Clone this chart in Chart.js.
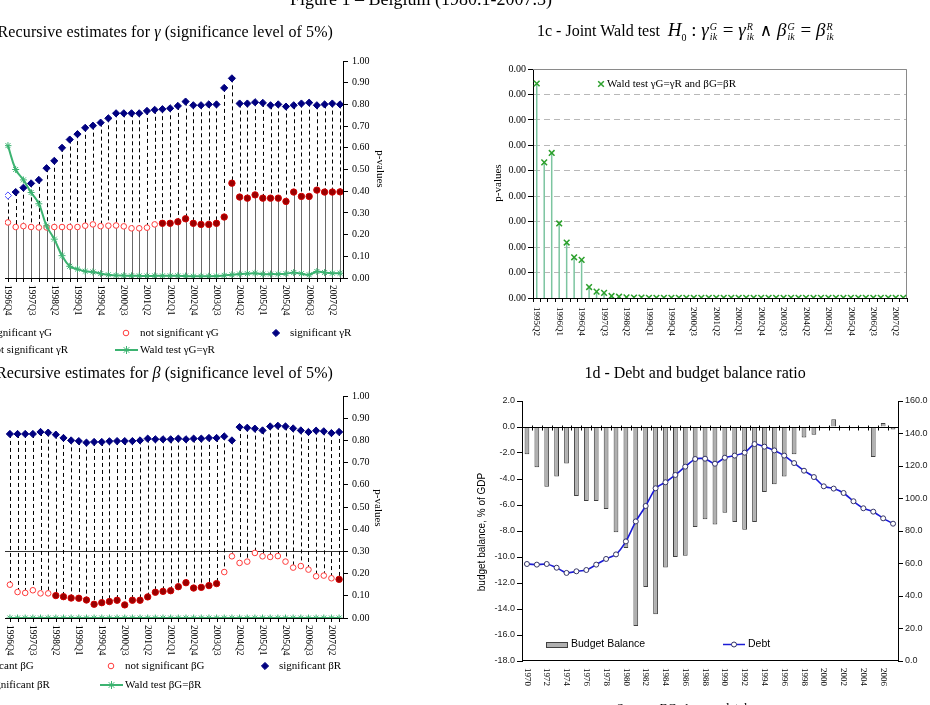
<!DOCTYPE html>
<html>
<head>
<meta charset="utf-8">
<title>Figure 1 – Belgium</title>
<script src="https://cdn.jsdelivr.net/npm/chart.js@4.4.1/dist/chart.umd.min.js"></script>
<style>
  html, body { margin: 0; padding: 0; background: #fff; }
  body { position: relative; width: 930px; height: 705px; overflow: hidden;
         font-family: "Liberation Serif", "Times New Roman", serif; color: #000; }
  canvas { position: absolute; }
  .t { position: absolute; white-space: nowrap; line-height: 1; }
  .lg { font-size: 11px; }
  .rotD { position: absolute; white-space: nowrap; line-height: 1; transform: translate(-50%, -50%) rotate(90deg); }
  .rotU { position: absolute; white-space: nowrap; line-height: 1; transform: translate(-50%, -50%) rotate(-90deg); }
  .ss { display: inline-block; vertical-align: -0.35em; font-size: 10px; font-style: italic; line-height: 0.95; margin: 0 1px 0 1px; }
  .ss span { display: block; }
  .op { font-size: 17px; font-family: "DejaVu Serif", serif; font-weight: normal; }
  .sans { font-family: "Liberation Sans", Arial, sans-serif; }
</style>
</head>
<body>

<canvas id="c1a" width="465" height="360" style="left:0;top:0"></canvas>
<canvas id="c1c" width="465" height="360" style="left:465px;top:0"></canvas>
<canvas id="c1b" width="465" height="345" style="left:0;top:360px"></canvas>
<canvas id="c1d" width="465" height="345" style="left:465px;top:360px"></canvas>

<!-- titles -->
<div class="t" style="left:290px;top:-10px;font-size:18px">Figure 1 – Belgium (1980.1-2007.3)</div>
<div class="t" style="right:597px;top:24px;font-size:16px;letter-spacing:0.1px">1a - Recursive estimates for <i>γ</i> (significance level of 5%)</div>
<div class="t" style="left:537px;top:20px;font-size:16px">1c - Joint Wald test&nbsp; <span style="font-size:19px"><i>H</i><sub style="font-size:10px">0</sub> : <i>γ</i><span class="ss"><span>G</span><span>ik</span></span> = <i>γ</i><span class="ss"><span>R</span><span>ik</span></span> <span class="op">∧</span> <i>β</i><span class="ss"><span>G</span><span>ik</span></span> = <i>β</i><span class="ss"><span>R</span><span>ik</span></span></span></div>
<div class="t" style="right:597px;top:365px;font-size:16px;letter-spacing:0.1px">1b - Recursive estimates for <i>β</i> (significance level of 5%)</div>
<div class="t" style="left:695px;top:365px;font-size:16px;transform:translateX(-50%)">1d - Debt and budget balance ratio</div>
<div class="t" style="left:692px;top:701px;font-size:13px;transform:translateX(-50%)">Source: EC, Ameco database</div>

<!-- axis titles -->
<div class="rotD" style="left:380px;top:169px;font-size:11px">p-values</div>
<div class="rotD" style="left:378px;top:508px;font-size:11px">p-values</div>
<div class="rotU" style="left:497px;top:183px;font-size:11px">p-values</div>
<div class="rotU sans" style="left:482px;top:532px;font-size:10px">budget balance, % of GDP</div>

<!-- legends -->
<div class="t lg" style="left:-10px;top:327px">significant γG</div>
<div class="t lg" style="left:140px;top:327px">not significant γG</div>
<div class="t lg" style="left:290px;top:327px">significant γR</div>
<div class="t lg" style="left:-10px;top:344px">not significant γR</div>
<div class="t lg" style="left:140px;top:344px">Wald test γG=γR</div>

<div class="t lg" style="left:-29px;top:660px">significant βG</div>
<div class="t lg" style="left:125px;top:660px">not significant βG</div>
<div class="t lg" style="left:279px;top:660px">significant βR</div>
<div class="t lg" style="left:-29px;top:679px">not significant βR</div>
<div class="t lg" style="left:125px;top:679px">Wald test βG=βR</div>

<div class="t lg" style="left:607px;top:78px">Wald test γG=γR and βG=βR</div>
<div class="t sans" style="left:571px;top:638px;font-size:10.5px">Budget Balance</div>
<div class="t sans" style="left:748px;top:638px;font-size:10.5px">Debt</div>

<script>
// ---------- categories ----------
function quarterLabels(year, q, n) {
  const out = [];
  for (let k = 0; k < n; k++) {
    out.push(year + 'Q' + q);
    q++;
    if (q > 4) { q = 1; year++; }
  }
  return out;
}
const quartersRec = quarterLabels(1996, 4, 44);   // 1996Q4 .. 2007Q3
const quartersJoint = quarterLabels(1995, 2, 50); // 1995Q2 .. 2007Q3
const years = [];
for (let yr = 1970; yr <= 2007; yr++) years.push(String(yr));

// ---------- 1a : gamma ----------
const gammaG = [0.256, 0.235, 0.239, 0.235, 0.233, 0.233, 0.235, 0.235, 0.235, 0.235, 0.241,
  0.247, 0.239, 0.241, 0.242, 0.238, 0.229, 0.229, 0.232, 0.247, 0.252, 0.252, 0.259, 0.273,
  0.252, 0.247, 0.247, 0.252, 0.281, 0.437, 0.373, 0.368, 0.383, 0.368, 0.368, 0.368, 0.353,
  0.396, 0.376, 0.376, 0.405, 0.396, 0.396, 0.397];
const gammaGSig = [0, 0, 0, 0, 0, 0, 0, 0, 0, 0, 0, 0, 0, 0, 0, 0, 0, 0, 0, 0, 1, 1, 1, 1,
  1, 1, 1, 1, 1, 1, 1, 1, 1, 1, 1, 1, 1, 1, 1, 1, 1, 1, 1, 1];
const gammaR = [0.380, 0.396, 0.416, 0.436, 0.452, 0.506, 0.540, 0.600, 0.638, 0.663, 0.692,
  0.702, 0.716, 0.736, 0.759, 0.759, 0.759, 0.759, 0.770, 0.775, 0.778, 0.782, 0.793, 0.813,
  0.796, 0.796, 0.800, 0.800, 0.876, 0.920, 0.804, 0.804, 0.810, 0.807, 0.796, 0.800, 0.790,
  0.796, 0.804, 0.808, 0.796, 0.800, 0.804, 0.800];
const gammaRSig = [0, 1, 1, 1, 1, 1, 1, 1, 1, 1, 1, 1, 1, 1, 1, 1, 1, 1, 1, 1, 1, 1, 1, 1,
  1, 1, 1, 1, 1, 1, 1, 1, 1, 1, 1, 1, 1, 1, 1, 1, 1, 1, 1, 1];
const waldGamma = [0.61, 0.50, 0.452, 0.394, 0.342, 0.24, 0.179, 0.103, 0.054, 0.041, 0.031,
  0.028, 0.020, 0.015, 0.012, 0.011, 0.010, 0.010, 0.009, 0.010, 0.010, 0.010, 0.010, 0.009,
  0.008, 0.008, 0.008, 0.009, 0.012, 0.015, 0.018, 0.020, 0.022, 0.018, 0.018, 0.018, 0.020,
  0.025, 0.020, 0.015, 0.030, 0.025, 0.022, 0.022];

// ---------- 1b : beta ----------
const betaG = [0.150, 0.117, 0.113, 0.125, 0.111, 0.111, 0.101, 0.096, 0.090, 0.089, 0.081,
  0.062, 0.069, 0.074, 0.080, 0.059, 0.080, 0.080, 0.095, 0.116, 0.120, 0.123, 0.141, 0.159,
  0.135, 0.138, 0.146, 0.155, 0.207, 0.278, 0.248, 0.254, 0.293, 0.278, 0.275, 0.279, 0.254,
  0.227, 0.234, 0.218, 0.188, 0.191, 0.179, 0.174];
const betaGSig = [0, 0, 0, 0, 0, 0, 1, 1, 1, 1, 1, 1, 1, 1, 1, 1, 1, 1, 1, 1, 1, 1, 1, 1,
  1, 1, 1, 1, 0, 0, 0, 0, 0, 0, 0, 0, 0, 0, 0, 0, 0, 0, 0, 1];
const betaR = [0.829, 0.829, 0.829, 0.829, 0.838, 0.835, 0.826, 0.811, 0.800, 0.797, 0.790,
  0.793, 0.793, 0.796, 0.797, 0.797, 0.797, 0.800, 0.808, 0.805, 0.805, 0.805, 0.808, 0.805,
  0.808, 0.808, 0.811, 0.811, 0.818, 0.800, 0.860, 0.857, 0.853, 0.845, 0.863, 0.866, 0.863,
  0.854, 0.845, 0.838, 0.844, 0.841, 0.833, 0.838];
const betaRSig = [1, 1, 1, 1, 1, 1, 1, 1, 1, 1, 1, 1, 1, 1, 1, 1, 1, 1, 1, 1, 1, 1, 1, 1,
  1, 1, 1, 1, 1, 1, 1, 1, 1, 1, 1, 1, 1, 1, 1, 1, 1, 1, 1, 1];
const waldBeta = [0, 0, 0, 0, 0, 0, 0, 0, 0, 0, 0, 0, 0, 0, 0, 0, 0, 0, 0, 0, 0, 0,
  0, 0, 0, 0, 0, 0, 0, 0, 0, 0, 0, 0, 0, 0, 0, 0, 0, 0, 0, 0, 0, 0];

// ---------- 1c : joint Wald test ----------
const waldJoint = [0.000843, 0.000533, 0.000570, 0.000293, 0.000218, 0.000160, 0.000150,
  0.000043, 0.000025, 0.000020, 0.000008, 0.000005,
  0.000003, 0.000002, 0.000002, 0.000001, 0.000001, 0.000001, 0.000001, 0.000001, 0.000001, 0.000001,
  0.000001, 0.000001, 0.000001, 0.000001, 0.000001, 0.000001, 0.000001, 0.000001, 0.000001, 0.000001,
  0.000001, 0.000001, 0.000001, 0.000001, 0.000001, 0.000001, 0.000001, 0.000001, 0.000001, 0.000001,
  0.000001, 0.000001, 0.000001, 0.000001, 0.000001, 0.000001, 0.000001, 0.000001];

// ---------- 1d : debt and budget balance ----------
const budgetBalance = [-2.1, -3.1, -4.6, -3.8, -2.8, -5.3, -5.7, -5.7, -6.3, -8.1,
  -9.3, -15.3, -12.3, -14.4, -10.8, -10.0, -9.9, -7.7, -7.1, -7.5,
  -6.6, -7.3, -7.9, -7.3, -5.0, -4.4, -3.8, -2.1, -0.8, -0.6,
  -0.1, 0.6, 0.0, -0.1, -0.1, -2.3, 0.3, -0.2];
const debt = [59.7, 59.3, 59.7, 57.4, 54.2, 55.2, 56.0, 59.3, 62.8, 65.6,
  73.6, 85.9, 95.4, 106.3, 110.0, 114.5, 119.6, 124.3, 124.5, 121.4,
  125.1, 126.4, 128.2, 133.5, 131.9, 129.6, 126.4, 121.8, 117.1, 113.2,
  107.5, 106.1, 103.4, 98.3, 94.0, 91.9, 87.8, 84.5];

// ---------- helpers ----------
const serif = '"Liberation Serif", "Times New Roman", serif';
const sans = '"Liberation Sans", Arial, sans-serif';
Chart.defaults.font.family = serif;
Chart.defaults.color = '#000';
const GREEN = '#3cb371';

const asXY = vals => vals.map((v, i) => ({ x: i, y: v }));
const pick = (vals, flags, want) => vals.map((v, i) => ({ x: i, y: flags[i] === want ? v : null }));

function drawMarker(ctx, style, x, y, r, fill, stroke, lw) {
  ctx.save();
  ctx.lineWidth = lw || 1;
  ctx.strokeStyle = stroke;
  ctx.fillStyle = fill || stroke;
  ctx.beginPath();
  if (style === 'circle') {
    ctx.arc(x, y, r, 0, Math.PI * 2);
    ctx.fill();
  } else if (style === 'rectRot') {
    ctx.moveTo(x, y - r); ctx.lineTo(x + r, y); ctx.lineTo(x, y + r); ctx.lineTo(x - r, y);
    ctx.closePath();
    ctx.fill();
  } else {
    const d = r * 0.707;
    ctx.moveTo(x - d, y - d); ctx.lineTo(x + d, y + d);
    ctx.moveTo(x + d, y - d); ctx.lineTo(x - d, y + d);
    if (style === 'star') {
      ctx.moveTo(x, y - r); ctx.lineTo(x, y + r);
      ctx.moveTo(x - r, y); ctx.lineTo(x + r, y);
    }
  }
  ctx.stroke();
  ctx.restore();
}

// labels reading top to bottom under the axis
function drawDownLabels(chart, labels, every, gap, font) {
  const { ctx, chartArea: a, scales: { x } } = chart;
  ctx.save();
  ctx.font = font;
  ctx.fillStyle = '#000';
  ctx.textAlign = 'left';
  ctx.textBaseline = 'middle';
  labels.forEach((lab, i) => {
    if (i % every) return;
    ctx.save();
    ctx.translate(x.getPixelForValue(i), a.bottom + gap);
    ctx.rotate(Math.PI / 2);
    ctx.fillText(lab, 0, 0);
    ctx.restore();
  });
  ctx.restore();
}

/* --------------- recursive estimates (1a, 1b) --------------------- */
function recursiveChart(id, cfg) {
  const decor = {
    id: 'recDecor',
    beforeDatasetsDraw(chart) {
      const { ctx, chartArea: a, scales: { x, y } } = chart;
      ctx.save();
      ctx.lineWidth = 1;
      if (cfg.refLine != null) {
        const yr = Math.round(y.getPixelForValue(cfg.refLine)) + 0.5;
        ctx.strokeStyle = '#333';
        ctx.beginPath(); ctx.moveTo(a.left, yr); ctx.lineTo(a.right, yr); ctx.stroke();
      }
      cfg.r.forEach((v, i) => {
        const px = Math.round(x.getPixelForValue(i)) + 0.5;
        const yR = y.getPixelForValue(v);
        const yG = y.getPixelForValue(cfg.g[i]);
        ctx.setLineDash([4, 3]);
        ctx.strokeStyle = '#000';
        ctx.beginPath(); ctx.moveTo(px, yR); ctx.lineTo(px, cfg.toBase ? a.bottom : yG); ctx.stroke();
        if (cfg.toBase) {
          ctx.setLineDash([]);
          ctx.strokeStyle = '#6a6a6a';
          ctx.beginPath(); ctx.moveTo(px, yG); ctx.lineTo(px, a.bottom); ctx.stroke();
        }
      });
      // category axis
      ctx.setLineDash([]);
      ctx.strokeStyle = '#000';
      ctx.beginPath();
      ctx.moveTo(a.left, a.bottom + 0.5); ctx.lineTo(a.right, a.bottom + 0.5);
      cfg.r.forEach((v, i) => {
        const px = Math.round(x.getPixelForValue(i)) + 0.5;
        ctx.moveTo(px, a.bottom); ctx.lineTo(px, a.bottom + 4);
      });
      ctx.stroke();
      ctx.restore();
    },
    afterDraw(chart) {
      drawDownLabels(chart, cfg.labels, 3, 7, '9.5px ' + serif);
      const ctx = chart.ctx;
      const [r1, r2] = cfg.legendRows;
      const [c2, c3] = cfg.legendCols;
      drawMarker(ctx, 'circle', c2, r1, 2.8, '#fff', '#ff3b3b');
      drawMarker(ctx, 'rectRot', c3, r1, 3.6, '#000080', '#000080');
      ctx.save();
      ctx.strokeStyle = GREEN; ctx.lineWidth = 2;
      ctx.beginPath(); ctx.moveTo(c2 - 11, r2); ctx.lineTo(c2 + 12, r2); ctx.stroke();
      ctx.restore();
      drawMarker(ctx, 'star', c2 + 0.5, r2, 4, GREEN, GREEN);
    }
  };

  return new Chart(document.getElementById(id), {
    type: 'line',
    data: {
      datasets: [
        { label: cfg.names[4], data: asXY(cfg.wald), borderColor: GREEN, borderWidth: 2, tension: 0.4,
          pointStyle: 'star', pointRadius: 3.5, pointBorderColor: GREEN, pointBackgroundColor: GREEN, pointBorderWidth: 1 },
        { label: cfg.names[0], data: pick(cfg.g, cfg.gSig, 1), showLine: false, pointStyle: 'circle',
          pointRadius: 3.2, pointBackgroundColor: '#990000', pointBorderColor: '#d40000', pointBorderWidth: 1 },
        { label: cfg.names[1], data: pick(cfg.g, cfg.gSig, 0), showLine: false, pointStyle: 'circle',
          pointRadius: 2.8, pointBackgroundColor: '#fff', pointBorderColor: '#ff3b3b', pointBorderWidth: 1 },
        { label: cfg.names[2], data: pick(cfg.r, cfg.rSig, 1), showLine: false, pointStyle: 'rectRot',
          pointRadius: 3.6, pointBackgroundColor: '#000080', pointBorderColor: '#000080', pointBorderWidth: 1 },
        { label: cfg.names[3], data: pick(cfg.r, cfg.rSig, 0), showLine: false, pointStyle: 'rectRot',
          pointRadius: 3.6, pointBackgroundColor: '#fff', pointBorderColor: '#4b4bff', pointBorderWidth: 1 }
      ]
    },
    options: {
      responsive: false,
      animation: false,
      events: [],
      layout: { padding: cfg.padding },
      plugins: { legend: { display: false }, tooltip: { enabled: false } },
      scales: {
        x: { type: 'linear', display: false, min: cfg.xmin, max: cfg.xmax },
        y: {
          position: 'right', min: 0, max: 1,
          ticks: { stepSize: 0.1, padding: 4, font: { size: 10 }, color: '#000', callback: v => v.toFixed(2) },
          grid: { drawOnChartArea: false, tickLength: 5, color: '#000' },
          border: { color: '#000' },
          afterFit: s => { s.width = 50; }
        }
      }
    },
    plugins: [decor]
  });
}

recursiveChart('c1a', {
  g: gammaG, gSig: gammaGSig, r: gammaR, rSig: gammaRSig, wald: waldGamma, labels: quartersRec,
  names: ['significant γG', 'not significant γG', 'significant γR', 'not significant γR', 'Wald test γG=γR'],
  padding: { left: 0, right: 72, top: 61, bottom: 82 },
  xmin: -0.383, xmax: 43.383, toBase: true, refLine: null,
  legendRows: [333, 350], legendCols: [126, 276]
});

recursiveChart('c1b', {
  g: betaG, gSig: betaGSig, r: betaR, rSig: betaRSig, wald: waldBeta, labels: quartersRec,
  names: ['significant βG', 'not significant βG', 'significant βR', 'not significant βR', 'Wald test βG=βR'],
  padding: { left: 0, right: 72, top: 36, bottom: 87 },
  xmin: -0.64, xmax: 43.51, toBase: false, refLine: 0.30,
  legendRows: [306, 325], legendCols: [111, 265]
});

/* --------------- 1c joint Wald test --------------------- */
const jointDecor = {
  id: 'jointDecor',
  beforeDatasetsDraw(chart) {
    const { ctx, chartArea: a, scales: { x, y } } = chart;
    ctx.save();
    ctx.strokeStyle = '#8a8a8a';
    ctx.lineWidth = 1;
    ctx.beginPath();
    ctx.moveTo(a.left, a.top + 0.5); ctx.lineTo(a.right - 0.5, a.top + 0.5); ctx.lineTo(a.right - 0.5, a.bottom);
    ctx.stroke();
    ctx.strokeStyle = '#7cc5a0';
    ctx.lineWidth = 1.5;
    waldJoint.forEach((v, i) => {
      const px = x.getPixelForValue(i);
      ctx.beginPath(); ctx.moveTo(px, y.getPixelForValue(v)); ctx.lineTo(px, a.bottom); ctx.stroke();
    });
    ctx.restore();
  },
  afterDraw(chart) {
    drawDownLabels(chart, quartersJoint, 3, 9, '9px ' + serif);
    drawMarker(chart.ctx, 'crossRot', 136, 84, 4, null, '#2ca02c', 1.5);
  }
};

new Chart(document.getElementById('c1c'), {
  type: 'line',
  data: {
    labels: quartersJoint,
    datasets: [{
      label: 'Wald test γG=γR and βG=βR', data: waldJoint, showLine: false,
      pointStyle: 'crossRot', pointRadius: 4, pointBorderColor: '#2ca02c', pointBackgroundColor: '#2ca02c', pointBorderWidth: 1.5
    }]
  },
  options: {
    responsive: false,
    animation: false,
    events: [],
    layout: { padding: { left: 0, right: 23, top: 69, bottom: 58 } },
    plugins: { legend: { display: false }, tooltip: { enabled: false } },
    scales: {
      x: {
        type: 'category', offset: true,
        ticks: { display: false },
        grid: { offset: true, drawOnChartArea: false, tickLength: 4, color: '#000' },
        border: { color: '#000' }
      },
      y: {
        min: 0, max: 0.0009,
        ticks: { stepSize: 0.0001, padding: 2, font: { size: 10 }, color: '#000', callback: v => v.toFixed(2) },
        grid: { color: '#b8b8b8', tickLength: 5, tickColor: '#000' },
        border: { color: '#000', dash: [6, 4] },
        afterFit: s => { s.width = 68; }
      }
    }
  },
  plugins: [jointDecor]
});

/* --------------- 1d debt and budget balance --------------------- */
const debtDecor = {
  id: 'debtDecor',
  afterDatasetsDraw(chart) {
    const { ctx, chartArea: a, scales: { x, y } } = chart;
    const y0 = Math.round(y.getPixelForValue(0)) + 0.5;
    const step = x.getPixelForValue(1) - x.getPixelForValue(0);
    ctx.save();
    ctx.strokeStyle = '#000';
    ctx.lineWidth = 1;
    ctx.beginPath();
    ctx.moveTo(a.left, y0); ctx.lineTo(a.right, y0);
    years.forEach((yr, i) => {
      const px = Math.round(x.getPixelForValue(i) - step / 2) + 0.5;
      ctx.moveTo(px, y0 - 2); ctx.lineTo(px, y0 + 3);
    });
    ctx.moveTo(a.left, a.bottom - 0.5); ctx.lineTo(a.right, a.bottom - 0.5);
    ctx.stroke();
    ctx.restore();
  },
  afterDraw(chart) {
    drawDownLabels(chart, years, 2, 7, '9px ' + serif);
    const ctx = chart.ctx;
    ctx.save();
    ctx.fillStyle = '#b0b0b0';
    ctx.strokeStyle = '#404040';
    ctx.lineWidth = 1;
    ctx.fillRect(81, 282, 21, 5);
    ctx.strokeRect(81.5, 282.5, 21, 5);
    ctx.strokeStyle = '#1c1cd6';
    ctx.lineWidth = 1.5;
    ctx.beginPath(); ctx.moveTo(258, 284.5); ctx.lineTo(280, 284.5); ctx.stroke();
    ctx.restore();
    drawMarker(ctx, 'circle', 269, 284.5, 2.5, '#fff', '#333366');
  }
};

new Chart(document.getElementById('c1d'), {
  type: 'bar',
  data: {
    labels: years,
    datasets: [
      { type: 'line', label: 'Debt', data: debt, yAxisID: 'y2', borderColor: '#1c1cd6', borderWidth: 1.6, tension: 0.2,
        pointStyle: 'circle', pointRadius: 2.5, pointBackgroundColor: '#fff', pointBorderColor: '#333366', pointBorderWidth: 1 },
      { type: 'bar', label: 'Budget Balance', data: budgetBalance, yAxisID: 'y', backgroundColor: '#b0b0b0',
        borderColor: '#404040', borderWidth: 1, barPercentage: 0.48, categoryPercentage: 1 }
    ]
  },
  options: {
    responsive: false,
    animation: false,
    events: [],
    layout: { padding: { left: 0, right: 0, top: 41, bottom: 44 } },
    plugins: { legend: { display: false }, tooltip: { enabled: false } },
    scales: {
      x: { display: false, offset: true },
      y: {
        position: 'left', min: -18, max: 2,
        ticks: { stepSize: 2, padding: 2, font: { family: sans, size: 9 }, color: '#222', callback: v => v.toFixed(1) },
        grid: { drawOnChartArea: false, tickLength: 5, color: '#000' },
        border: { color: '#000' },
        afterFit: s => { s.width = 57; }
      },
      y2: {
        position: 'right', min: 0, max: 160,
        ticks: { stepSize: 20, padding: 2, font: { family: sans, size: 9 }, color: '#222', callback: v => v.toFixed(1) },
        grid: { drawOnChartArea: false, tickLength: 5, color: '#000' },
        border: { color: '#000' },
        afterFit: s => { s.width = 32; }
      }
    }
  },
  plugins: [debtDecor]
});
</script>
</body>
</html>
